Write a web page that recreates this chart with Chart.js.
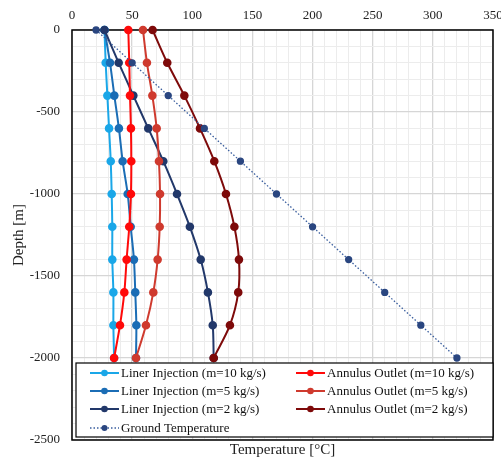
<!DOCTYPE html>
<html><head><meta charset="utf-8">
<script src="https://cdn.jsdelivr.net/npm/chart.js@4"></script>
<style>html,body{margin:0;padding:0;background:#fff}#wrap{width:501px;height:461px}</style>
</head><body><div id="wrap"><canvas id="c" width="501" height="461"></canvas></div>
<script>
const depths = [0,-200,-400,-600,-800,-1000,-1200,-1400,-1600,-1800,-2000];
const liner10 = [27,28,29.4,30.8,32.2,33,33.5,33.5,34.4,34.4,35];
const liner5 = [27,31.6,35.2,39,42.1,46.3,48.8,51.5,52.6,53.5,53.2];
const liner2 = [27,38.8,51,63.4,75.9,87.3,98,107,113,117,117.8];
const annulus10 = [46.8,47.6,48.2,49,49.3,49,47.6,45.4,43.5,39.9,35];
const annulus5 = [59,62.3,66.8,70.4,72.3,73.2,72.9,71.2,67.6,61.5,53.2];
const annulus2 = [67,79.2,93.4,106.4,118.3,128,135,138.8,138.2,131.3,117.8];
const ground = [20,50,80,110,140,170,200,230,260,290,320];
const xTickLabels = [0,50,100,150,200,250,300,350];
const yTickLabels = [0,-500,-1000,-1500,-2000,-2500];
const seriesLabels = ['Liner Injection (m=10 kg/s)','Annulus Outlet (m=10 kg/s)','Liner Injection (m=5 kg/s)','Annulus Outlet (m=5 kg/s)','Liner Injection (m=2 kg/s)','Annulus Outlet (m=2 kg/s)','Ground Temperature'];

const pts = arr => arr.map((v,i)=>({x:v,y:depths[i]}));
const serif = "'Liberation Serif','Times New Roman',serif";
function ds(label, arr, color, dash, width, r, order, ptColor){
  return {label, data: pts(arr), showLine:true, borderColor:color, backgroundColor:ptColor||color,
    pointBackgroundColor:ptColor||color, pointBorderColor:ptColor||color, borderWidth:width,
    pointRadius:r, pointHoverRadius:r, borderDash:dash, tension: dash.length?0:0.3, clip:false, order};
}
const datasets = [
  ds(seriesLabels[0], liner10, '#1AA7E8', [], 2, 3.3, 6),
  ds(seriesLabels[1], annulus10, '#FF0A0A', [], 2, 3.3, 3),
  ds(seriesLabels[2], liner5, '#1B6DB5', [], 2, 3.3, 5),
  ds(seriesLabels[3], annulus5, '#CF3A2E', [], 2, 3.3, 2),
  ds(seriesLabels[4], liner2, '#22386A', [], 2, 3.3, 4),
  ds(seriesLabels[5], annulus2, '#7E0A0A', [], 2, 3.3, 1),
  ds(seriesLabels[6], ground, '#3A5E9E', [1.5,2], 1.3, 3, 0, '#2A4680')
];

const boxPlugin = {
  id:'box',
  beforeDatasetsDraw(chart){
    const {ctx, chartArea:a} = chart;
    ctx.save();
    ctx.strokeStyle='#000'; ctx.lineWidth=1.5;
    ctx.strokeRect(a.left, a.top, a.right-a.left, a.bottom-a.top);
    ctx.restore();
  },
  afterDraw(chart){
    const {ctx, chartArea:a} = chart;
    ctx.save();
    const L = a.left+4, T = 363, R = a.right, B = 437;
    ctx.fillStyle='#fff'; ctx.fillRect(L,T,R-L,B-T);
    ctx.strokeStyle='#000'; ctx.lineWidth=1.2; ctx.strokeRect(L,T,R-L,B-T);
    ctx.font = "13px "+serif; ctx.textBaseline='middle'; ctx.textAlign='left';
    const cols=[90,296], rowY=[373,391,409,428];
    chart.data.datasets.forEach((d,i)=>{
      const col = i===6?0:i%2, row = i===6?3:Math.floor(i/2);
      const x=cols[col], y=rowY[row];
      ctx.strokeStyle=d.borderColor; ctx.lineWidth=d.borderWidth;
      ctx.setLineDash(d.borderDash||[]);
      ctx.beginPath(); ctx.moveTo(x,y); ctx.lineTo(x+29,y); ctx.stroke();
      ctx.setLineDash([]);
      ctx.fillStyle=d.pointBackgroundColor;
      ctx.beginPath(); ctx.arc(x+14.5,y,d.pointRadius,0,Math.PI*2); ctx.fill();
      ctx.fillStyle='#111';
      ctx.fillText(d.label, x+31, y+0.5);
    });
    ctx.restore();
  }
};

new Chart(document.getElementById('c'), {
  type:'scatter',
  data:{datasets},
  plugins:[boxPlugin],
  options:{
    responsive:false, animation:false,
    layout:{padding:{left:10,right:8,top:0,bottom:0}},
    plugins:{legend:{display:false}, tooltip:{enabled:false}},
    scales:{
      x:{type:'linear', position:'top', min:0, max:350,
        ticks:{stepSize:10, autoSkip:false, maxRotation:0, color:'#222', font:{family:serif,size:13}, padding:7,
          callback:v=> xTickLabels.includes(v)? String(v):''},
        grid:{color:c=> (c.tick && c.tick.value%50===0)?'#d6d6d6':'#ececec', lineWidth:c=> (c.tick && c.tick.value%50===0)?1.3:1, drawTicks:false},
        border:{display:false},
        afterFit:s=>{s.height=30; s.paddingRight=0; s.paddingLeft=0;}
      },
      x2:{type:'linear', position:'bottom', min:0, max:350, display:true,
        ticks:{display:false}, grid:{display:false, drawTicks:false}, border:{display:false},
        title:{display:true, text:'Temperature [°C]', color:'#222', font:{family:serif,size:15}, padding:{top:2,bottom:2}},
        afterFit:s=>{s.height=21; s.paddingRight=0; s.paddingLeft=0;}
      },
      y:{type:'linear', min:-2500, max:0,
        ticks:{stepSize:100, autoSkip:false, color:'#222', font:{family:serif,size:13}, padding:12,
          callback:v=> yTickLabels.includes(v)? String(v):''},
        grid:{color:c=> (c.tick && c.tick.value%500===0)?'#d6d6d6':'#ececec', lineWidth:c=> (c.tick && c.tick.value%500===0)?1.3:1, drawTicks:false},
        border:{display:false},
        title:{display:true, text:'Depth [m]', color:'#222', font:{family:serif,size:15}, padding:{top:0,bottom:0}},
        afterFit:s=>{s.width=62; s.paddingTop=0; s.paddingBottom=0;}
      }
    }
  }
});
</script></body></html>
